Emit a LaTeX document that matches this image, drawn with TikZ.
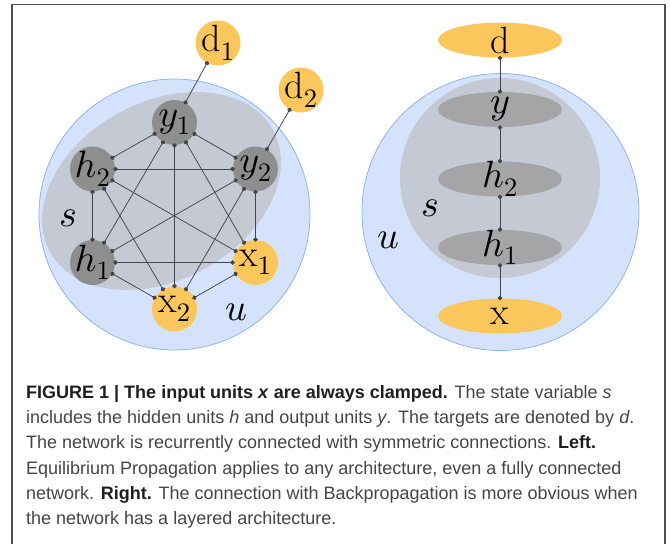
\documentclass[tikz,border=0pt]{standalone}
\usepackage{fontspec}
\newfontfamily\capfont{Liberation Sans}
\DeclareFontShape{OML}{cmm}{m}{it}{<->cmmi10}{}
\DeclareFontShape{OT1}{cmr}{m}{n}{<->cmr10}{}
\usetikzlibrary{shapes.geometric,arrows.meta}
\definecolor{ublue}{HTML}{D4E3FB}
\definecolor{ubord}{HTML}{88AFEA}
\definecolor{sgray}{HTML}{C5C9D3}
\definecolor{ngray}{HTML}{8E8E8E}
\definecolor{lgray}{HTML}{A5A5A7}
\definecolor{orng}{HTML}{FBC65C}
\definecolor{edgec}{HTML}{454545}
\definecolor{framec}{HTML}{505050}
\definecolor{captext}{HTML}{454545}
\definecolor{capbold}{HTML}{1E1E1E}
\newcommand\nodefont{\fontsize{38}{44}\selectfont}
\newcommand\capsize{\capfont\fontsize{18}{25}\selectfont}
\begin{document}
\begin{tikzpicture}[x=1pt,y=-1pt,
  unit/.style={circle, minimum size=45pt, inner sep=0pt, outer sep=0pt, fill=ngray},
  clamp/.style={unit, fill=orng},
  layer/.style={ellipse, minimum width=124pt, minimum height=35pt, inner sep=0pt, outer sep=0pt, fill=lgray},
  clamplayer/.style={layer, fill=orng},
  every label/.style={font=\nodefont, inner sep=0pt},
  conn/.style={draw=edgec, line width=0.75pt, {Circle[length=4.6pt]}-{Circle[length=4.6pt]}, shorten <=-1.8pt, shorten >=-1.8pt},
  setlabel/.style={font=\nodefont, inner sep=0pt},
  capline/.style={anchor=base west, inner sep=0pt, font=\capsize, text=captext},
  ublob/.style={fill=ublue, draw=ubord, line width=0.7pt},
  sblob/.style={fill=sgray}
]
\useasboundingbox (0,0) rectangle (670,544);
% frame
\draw[framec, line width=1.4pt] (12,548) -- (12,4.5) -- (665,4.5) -- (665,548);

% ---------- left ----------
\path[ublob] (174.5,214.5) circle (135.5);
\path[sblob, rotate around={28.5:(161.5,191)}] (161.5,191) ellipse (127 and 89);

\node[unit, label=center:{$y_1$}] (y1) at (174.5,122.5) {};
\node[unit, label=center:{$h_2$}] (h2) at (92.5,169) {};
\node[unit, label=center:{$y_2$}] (y2) at (255.5,169) {};
\node[unit, label=center:{$h_1$}] (h1) at (92.5,262.5) {};
\node[clamp, label=center:{$\mathrm{x}_1$}] (x1) at (255.5,262.5) {};
\node[clamp, label=center:{$\mathrm{x}_2$}] (x2) at (174.5,309) {};
\node[clamp, label=center:{$\mathrm{d}_1$}] (d1) at (218,43) {};
\node[clamp, label=center:{$\mathrm{d}_2$}] (d2) at (301,90) {};

\foreach \a/\b in {y1/h2, y1/y2, y1/h1, y1/x1, y1/x2,
                   h2/y2, h2/h1, h2/x1, h2/x2,
                   y2/h1, y2/x1, y2/x2,
                   h1/x1, h1/x2, x1/x2, d1/y1, d2/y2}
  \draw[conn] (\a) -- (\b);

\node[setlabel] (sL) at (68,218) {$s$};
\node[setlabel] (uL) at (236,312) {$u$};

% ---------- right ----------
\path[ublob] (500.5,212) circle (138.5);
\path[sblob] (500,178) circle (100);

\node[clamplayer, label=center:{$\mathrm{d}$}] (d) at (500,40) {};
\node[layer, label=center:{$y$}] (y) at (500,109.5) {};
\node[layer, label=center:{$h_2$}] (h2r) at (500,179) {};
\node[layer, label=center:{$h_1$}] (h1r) at (500,247.5) {};
\node[clamplayer, label=center:{$\mathrm{x}$}] (x) at (500,316) {};

\foreach \a/\b in {d/y, y/h2r, h2r/h1r, h1r/x}
  \draw[conn] (\a) -- (\b);

\node[setlabel] (sR) at (430,208) {$s$};
\node[setlabel] (uR) at (388,240) {$u$};

% ---------- caption ----------
\node[capline] (c1) at (26,398.5) {{\color{capbold}\bfseries FIGURE 1 | The input units \textit{x} are always clamped.} The state variable \textit{s}};
\node[capline] (c2) at (26,423.7) {includes the hidden units \textit{h} and output units \textit{y}. The targets are denoted by \textit{d}.};
\node[capline] (c3) at (26,448.9) {The network is recurrently connected with symmetric connections. {\color{capbold}\bfseries Left.}};
\node[capline] (c4) at (26,474.1) {Equilibrium Propagation applies to any architecture, even a fully connected};
\node[capline] (c5) at (26,499.3) {network. {\color{capbold}\bfseries Right.} The connection with Backpropagation is more obvious when};
\node[capline] (c6) at (26,524.5) {the network has a layered architecture.};
\end{tikzpicture}
\end{document}
